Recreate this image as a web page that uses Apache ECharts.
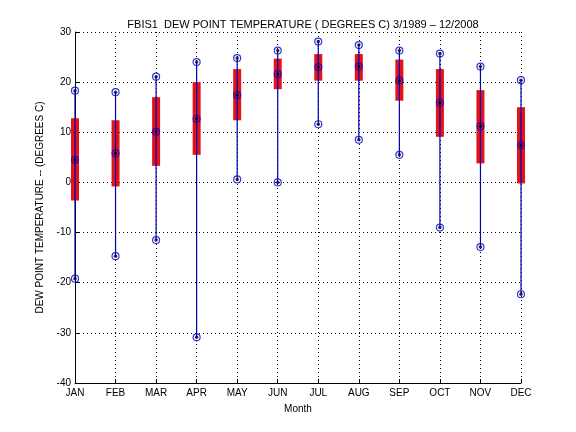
<!DOCTYPE html>
<html>
<head>
<meta charset="utf-8">
<script src="https://cdn.jsdelivr.net/npm/echarts@6/dist/echarts.min.js"></script>
<style>
  html, body { margin: 0; padding: 0; background: #fff; }
  .box { width: 576px; height: 432px; }
</style>
</head>
<body>
<div class="box"></div>
<script>
// 月份
const months = ["JAN", "FEB", "MAR", "APR", "MAY", "JUN", "JUL", "AUG", "SEP", "OCT", "NOV", "DEC"];
// 每月统计值
const maxVals = [18.3, 18.0, 21.1, 24.0, 24.8, 26.3, 28.1, 27.4, 26.3, 25.7, 23.1, 20.4];
const q3Vals = [12.8, 12.4, 17.0, 20.0, 22.6, 24.7, 25.6, 25.6, 24.5, 22.6, 18.4, 15.0];
const medianVals = [4.5, 5.8, 10.1, 12.7, 17.4, 21.6, 23.0, 23.1, 20.3, 15.9, 11.2, 7.4];
const q1Vals = [-3.6, -0.8, 3.3, 5.5, 12.4, 18.6, 20.3, 20.3, 16.3, 9.1, 3.8, -0.2];
const minVals = [-19.2, -14.7, -11.5, -30.9, 0.6, 0.0, 11.6, 8.5, 5.5, -9.0, -12.9, -22.3];
const yTicks = [-40, -30, -20, -10, 0, 10, 20, 30];

function setBox() {
  let myChart = echarts.init(document.querySelector(".box"));
  const font = "Liberation Sans";

  let boxData = months.map((m, i) => [i + 1, q1Vals[i], q3Vals[i]]);
  let lineData = months.map((m, i) => [i + 1, minVals[i], maxVals[i]]);
  let pts = [];
  months.forEach((m, i) => {
    pts.push([i + 1, maxVals[i]]);
    pts.push([i + 1, medianVals[i]]);
    pts.push([i + 1, minVals[i]]);
  });

  let option = {
    animation: false,
    title: {
      text: "FBIS1  DEW POINT TEMPERATURE ( DEGREES C) 3/1989 \u2013 12/2008",
      left: 298,
      textAlign: "center",
      top: 14,
      textStyle: { fontFamily: font, fontSize: 11, fontWeight: "normal", color: "#000" },
    },
    grid: { left: 75, right: 55, top: 32, bottom: 49 },
    xAxis: {
      type: "value",
      min: 1,
      max: 12,
      interval: 1,
      name: "Month",
      nameLocation: "middle",
      nameGap: 21,
      nameTextStyle: { fontFamily: font, fontSize: 10, color: "#000" },
      axisLine: { onZero: false, lineStyle: { color: "#000", width: 1 } },
      axisTick: { inside: true, length: 4, lineStyle: { color: "#000" } },
      axisLabel: {
        fontFamily: font,
        fontSize: 10,
        color: "#000",
        margin: 5,
        formatter: (v) => months[v - 1] || "",
      },
      splitLine: { show: true, lineStyle: { color: "#000", type: [1, 3], width: 1 } },
    },
    yAxis: {
      type: "value",
      min: yTicks[0],
      max: yTicks[yTicks.length - 1],
      interval: 10,
      name: "DEW POINT TEMPERATURE -- (DEGREES C)",
      nameLocation: "middle",
      nameGap: 27,
      nameTextStyle: { fontFamily: font, fontSize: 10, color: "#000" },
      axisLine: { show: true, onZero: false, lineStyle: { color: "#000", width: 1 } },
      axisTick: { inside: true, length: 4, lineStyle: { color: "#000" } },
      axisLabel: { fontFamily: font, fontSize: 10, color: "#000", margin: 4 },
      splitLine: { show: true, lineStyle: { color: "#000", type: [1, 3], width: 1 } },
    },
    series: [
      {
        // 红色箱体
        type: "custom",
        data: boxData,
        renderItem: function (params, api) {
          let lo = api.coord([api.value(0), api.value(1)]);
          let hi = api.coord([api.value(0), api.value(2)]);
          return {
            type: "rect",
            shape: { x: lo[0] - 4, y: hi[1], width: 8, height: lo[1] - hi[1] },
            style: { fill: "#e3121b" },
          };
        },
        z: 2,
      },
      {
        // 蓝色须线
        type: "custom",
        data: lineData,
        renderItem: function (params, api) {
          let lo = api.coord([api.value(0), api.value(1)]);
          let hi = api.coord([api.value(0), api.value(2)]);
          return {
            type: "line",
            shape: { x1: lo[0], y1: lo[1], x2: hi[0], y2: hi[1] },
            style: { stroke: "#0000b0", lineWidth: 1.2 },
          };
        },
        z: 3,
      },
      {
        type: "scatter",
        data: pts,
        symbol: "circle",
        symbolSize: 7,
        itemStyle: { color: "rgba(0,0,0,0)", borderColor: "#0000e0", borderWidth: 1.2 },
        z: 4,
      },
      {
        type: "scatter",
        data: pts,
        symbol: "circle",
        symbolSize: 3.5,
        itemStyle: { color: "#000" },
        z: 5,
      },
    ],
  };
  myChart.setOption(option);
}
//调用
setBox();
</script>
</body>
</html>
